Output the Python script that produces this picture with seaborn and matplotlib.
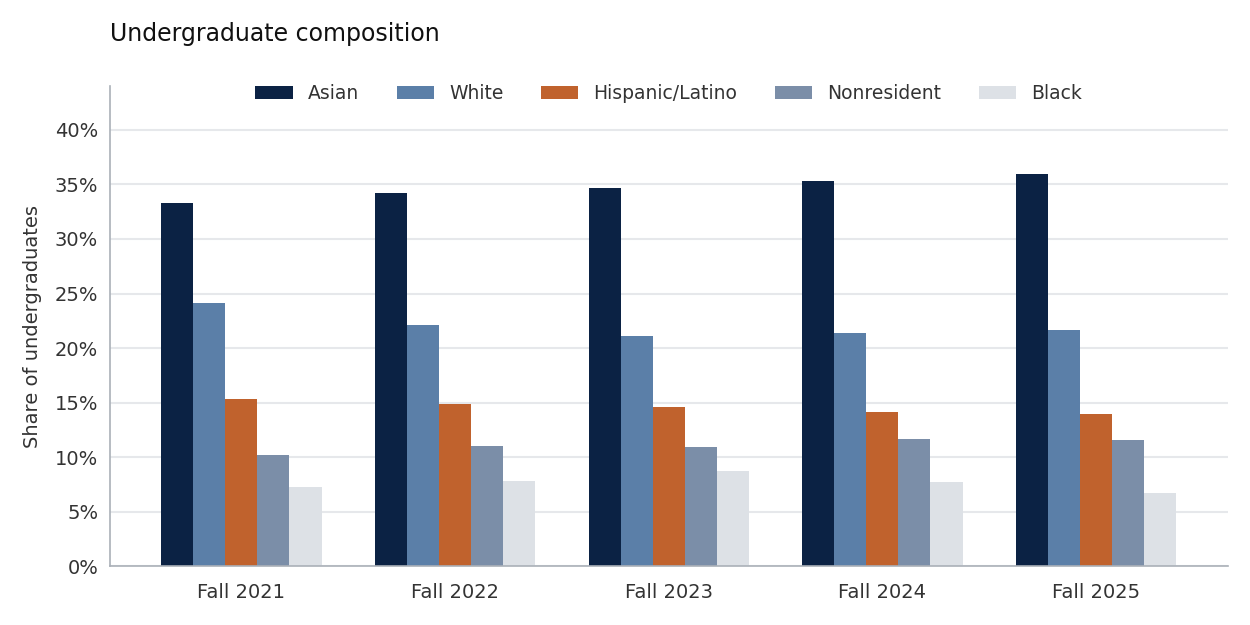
import matplotlib

matplotlib.use("Agg")

import matplotlib.pyplot as plt
import pandas as pd
import seaborn as sns
from matplotlib.ticker import FuncFormatter, MultipleLocator

TERMS = ["Fall 2021", "Fall 2022", "Fall 2023", "Fall 2024", "Fall 2025"]
GROUPS = ["Asian", "White", "Hispanic/Latino", "Nonresident", "Black"]

ASIAN = [33.3, 34.2, 34.7, 35.3, 36.0]
WHITE = [24.1, 22.1, 21.1, 21.4, 21.7]
HISPANIC = [15.3, 14.9, 14.6, 14.1, 14.0]
NONRESIDENT = [10.2, 11.0, 10.9, 11.7, 11.6]
BLACK = [7.3, 7.8, 8.7, 7.7, 6.7]

COLORS = ["#0b2244", "#5b7fa8", "#c0622d", "#7b8ea8", "#dde1e6"]


def build_frame() -> pd.DataFrame:
    series = [ASIAN, WHITE, HISPANIC, NONRESIDENT, BLACK]
    rows = []
    for group, values in zip(GROUPS, series):
        for term, value in zip(TERMS, values):
            rows.append({"term": term, "group": group, "share": value})
    return pd.DataFrame(rows)


def main() -> None:
    sns.set_theme(style="white")
    plt.rcParams["font.family"] = ["DejaVu Sans"]

    df = build_frame()
    fig, ax = plt.subplots(figsize=(12.5, 6.25), dpi=100)
    sns.barplot(
        data=df,
        x="term",
        y="share",
        hue="group",
        hue_order=GROUPS,
        order=TERMS,
        palette=COLORS,
        width=0.75,
        gap=0,
        saturation=1,
        linewidth=0,
        ax=ax,
    )

    ax.set_xlim(-0.615, len(TERMS) - 1 + 0.615)
    ax.set_ylim(0, 44)
    ax.yaxis.set_major_locator(MultipleLocator(5))
    ax.yaxis.set_major_formatter(FuncFormatter(lambda v, _: f"{v:.0f}%"))
    ax.grid(axis="y", color="#e6e8eb", linewidth=1.5)
    ax.set_axisbelow(True)
    ax.set_xlabel("")
    ax.set_ylabel("Share of undergraduates", fontsize=14, color="#333333", labelpad=9)
    ax.tick_params(axis="both", labelsize=14, colors="#333333", length=5, color="#aab0b8")
    ax.tick_params(axis="x", pad=7)

    for side in ["top", "right"]:
        ax.spines[side].set_visible(False)
    for side in ["left", "bottom"]:
        ax.spines[side].set_color("#aab0b8")
        ax.spines[side].set_linewidth(1.2)

    ax.legend(
        loc="upper center",
        bbox_to_anchor=(0.5, 1.04),
        ncol=5,
        frameon=False,
        fontsize=13.5,
        handlelength=2.0,
        handleheight=0.7,
        columnspacing=2.0,
        labelcolor="#333333",
    )

    fig.text(0.088, 0.945, "Undergraduate composition", fontsize=17, ha="left", va="center", color="#111111")
    fig.subplots_adjust(left=0.088, right=0.982, top=0.862, bottom=0.094)
    fig.savefig("out.png", dpi=100)
    plt.close(fig)


if __name__ == "__main__":
    main()
